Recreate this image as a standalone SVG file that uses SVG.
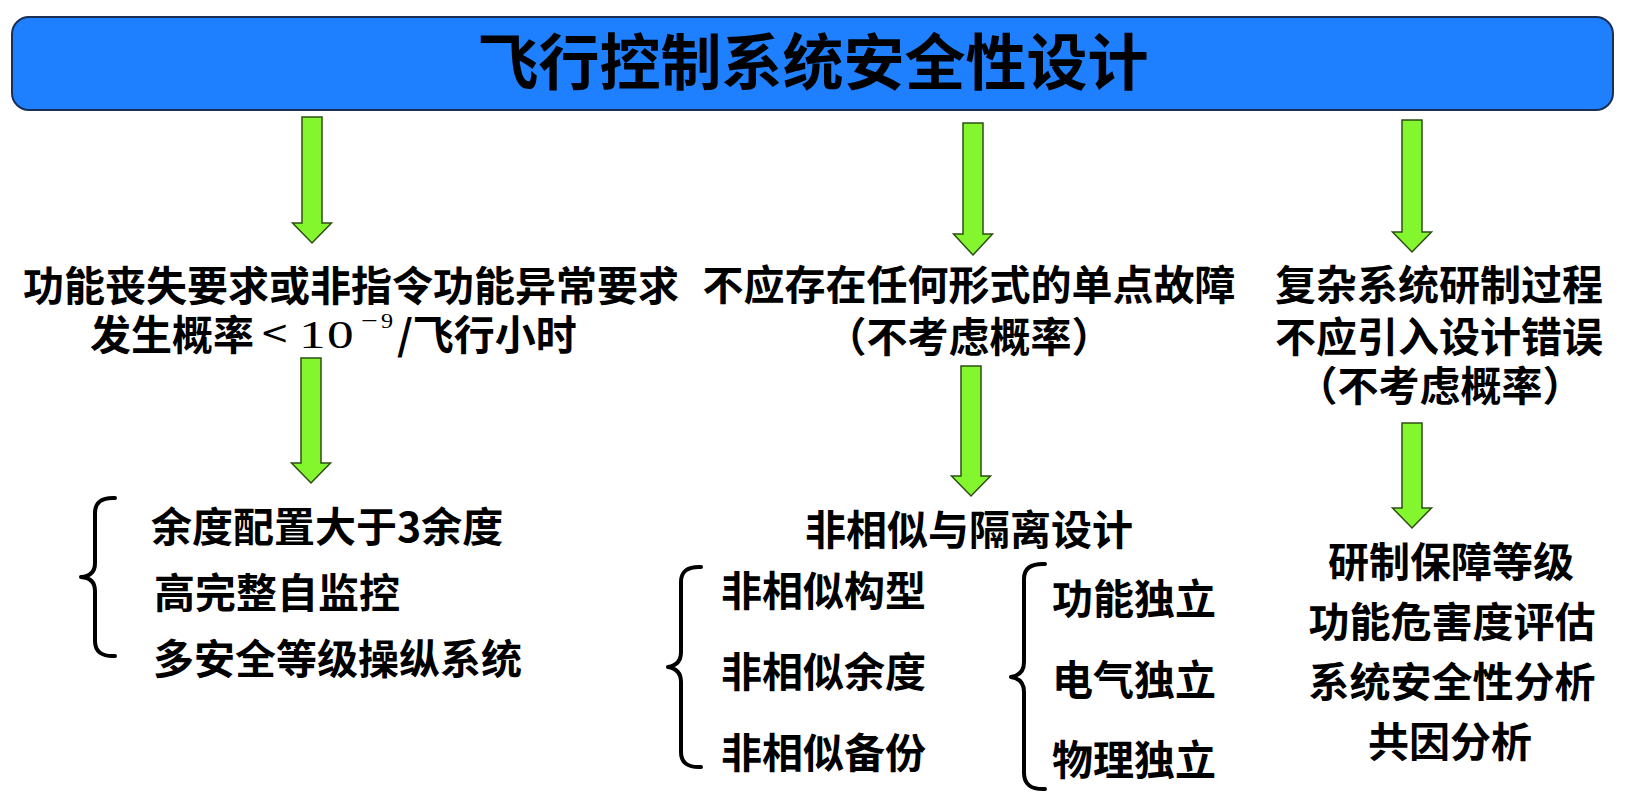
<svg xmlns="http://www.w3.org/2000/svg" width="1630" height="806" viewBox="0 0 1630 806">
<defs>
<style>
.t{font-family:"Noto Sans CJK SC","Noto Sans CJK TC",sans-serif;font-weight:700;fill:#000;font-size:41px}
.c{text-anchor:middle}
.title{font-size:61px}
.m{font-family:"Liberation Serif",serif;font-weight:400;fill:#000}
.lt{font-family:"DejaVu Serif",serif;font-weight:400;fill:#000}
.arrow{fill:#84f62e;stroke:#2d4d14;stroke-width:1.5}
.brace{fill:none;stroke:#000;stroke-width:4;stroke-linecap:round;stroke-linejoin:round}
.bar{fill:#1e7fff;stroke:#1b2f55;stroke-width:2}
</style>
</defs>
<rect width="1630" height="806" fill="#fff"/>

<g id="title">
<rect class="bar" x="12" y="17" width="1601" height="93" rx="17"/>
<text class="t c title" x="813" y="85">飞行控制系统安全性设计</text>
</g>

<g id="connectors">
<path class="arrow" d="M302,117 H322 V223 H331.5 L312,243 L292.5,223 H302 Z"/>
<path class="arrow" d="M301,358 H321 V463 H330.5 L311,483 L291.5,463 H301 Z"/>
<path class="arrow" d="M963,123 H983 V234 H992.5 L973,255 L953.5,234 H963 Z"/>
<path class="arrow" d="M961,366 H981 V476 H990.5 L971,496 L951.5,476 H961 Z"/>
<path class="arrow" d="M1402,120 H1422 V232 H1431.5 L1412,252 L1392.5,232 H1402 Z"/>
<path class="arrow" d="M1402,423 H1422 V508 H1431.5 L1412,528 L1392.5,508 H1402 Z"/>
</g>

<g id="req-probability">
<text class="t" x="23" y="301">功能丧失要求或非指令功能异常要求</text>
<text class="t" x="90" y="350">发生概率</text>
<text class="lt" font-size="50" transform="translate(260,344) scale(0.7,0.68)">&lt;</text>
<text class="m" font-size="41" transform="translate(299,348) scale(1.3,1)">1</text>
<text class="m" font-size="41" transform="translate(327,348) scale(1.3,1)">0</text>
<text class="m" font-size="22" transform="translate(361,328) scale(1.35,1)">−</text>
<text class="m" font-size="22" transform="translate(381,328) scale(1.1,1)">9</text>
<text class="t" x="397" y="350">/飞行小时</text>
</g>

<g id="redundancy">
<path class="brace" d="M115,498 Q95,497 95,513 L95,563 Q95,576 81,577 Q95,578 95,591 L95,641 Q95,657 115,656"/>
<text class="t" x="151" y="542">余度配置大于3余度</text>
<text class="t" x="154" y="608">高完整自监控</text>
<text class="t" x="153" y="674">多安全等级操纵系统</text>
</g>

<g id="req-single-point">
<text class="t c" x="969" y="300">不应存在任何形式的单点故障</text>
<text class="t c" x="969" y="352">（不考虑概率）</text>
</g>

<g id="dissimilar">
<text class="t c" x="969" y="545">非相似与隔离设计</text>
</g>

<g id="dissimilar-types">
<path class="brace" d="M701,567 Q681,566 681,582 L681,652 Q681,665 668,667 Q681,669 681,682 L681,752 Q681,768 701,767"/>
<text class="t" x="721" y="606">非相似构型</text>
<text class="t" x="721" y="687">非相似余度</text>
<text class="t" x="721" y="768">非相似备份</text>
</g>

<g id="independence">
<path class="brace" d="M1045,564 Q1024,563 1024,579 L1024,662 Q1024,675 1011,677 Q1024,679 1024,692 L1024,773 Q1024,790 1045,789"/>
<text class="t" x="1052" y="614">功能独立</text>
<text class="t" x="1052" y="695">电气独立</text>
<text class="t" x="1052" y="775">物理独立</text>
</g>

<g id="req-design-error">
<text class="t c" x="1439" y="300">复杂系统研制过程</text>
<text class="t c" x="1439" y="352">不应引入设计错误</text>
<text class="t c" x="1440" y="401">（不考虑概率）</text>
</g>

<g id="assurance">
<text class="t c" x="1451" y="577">研制保障等级</text>
<text class="t c" x="1452" y="637">功能危害度评估</text>
<text class="t c" x="1452" y="697">系统安全性分析</text>
<text class="t c" x="1450" y="757">共因分析</text>
</g>
</svg>
